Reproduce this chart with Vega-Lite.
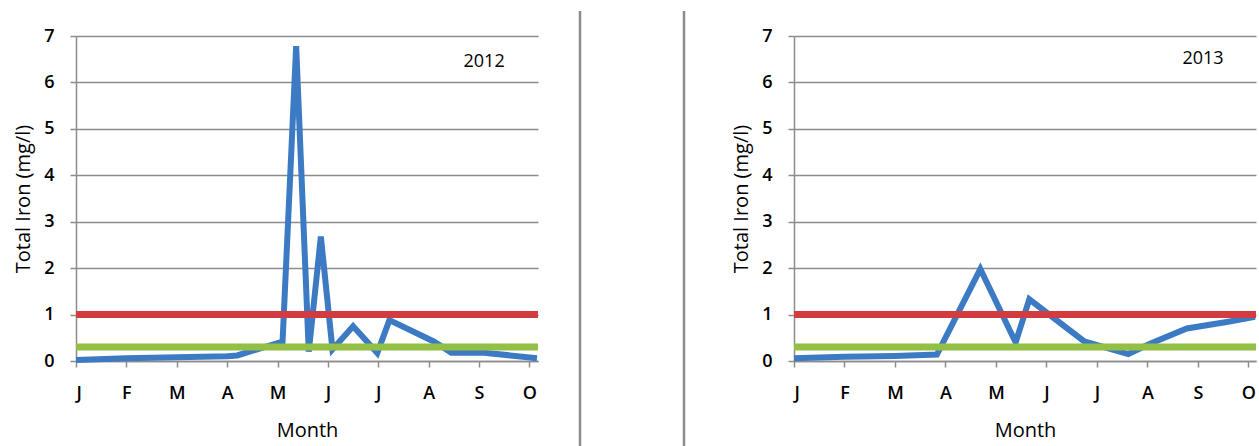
{
  "$schema": "https://vega.github.io/schema/vega-lite/v6.json",
  "padding": {"left": 13, "right": 0, "top": 9, "bottom": 0},
  "spacing": 29,
  "background": "white",
  "config": {
    "view": {"stroke": null},
    "font": "Open Sans",
    "text": {"font": "Open Sans"},
    "axis": {
      "labelFont": "Open Sans", "titleFont": "Open Sans",
      "labelColor": "#000000", "titleColor": "#000000",
      "domainColor": "#8c8c8c", "tickColor": "#8c8c8c", "gridColor": "#8c8c8c",
      "domainWidth": 1.5, "tickWidth": 1.5, "gridWidth": 1.5,
      "labelFontSize": 18, "titleFontSize": 20, "titleFontWeight": "normal", "labelFontWeight": 600,
      "tickSize": 6
    },
    "axisX": {"labelPadding": 17, "titlePadding": 18, "grid": false},
    "axisY": {"labelPadding": 16, "titlePadding": 10, "grid": true}
  },
  "datasets": {
    "iron2012": [
      {"month": 0, "iron": 0.02}, {"month": 1, "iron": 0.06}, {"month": 2, "iron": 0.08},
      {"month": 3, "iron": 0.1}, {"month": 3.2, "iron": 0.12}, {"month": 4.1, "iron": 0.42},
      {"month": 4.37, "iron": 6.78}, {"month": 4.62, "iron": 0.2}, {"month": 4.86, "iron": 2.68},
      {"month": 5.09, "iron": 0.25}, {"month": 5.5, "iron": 0.75}, {"month": 5.98, "iron": 0.17},
      {"month": 6.22, "iron": 0.88}, {"month": 7.1, "iron": 0.42}, {"month": 7.45, "iron": 0.18},
      {"month": 8.1, "iron": 0.18}, {"month": 9.15, "iron": 0.06}
    ],
    "iron2013": [
      {"month": 0, "iron": 0.06}, {"month": 1, "iron": 0.09}, {"month": 2, "iron": 0.11},
      {"month": 2.83, "iron": 0.14}, {"month": 3.69, "iron": 1.98}, {"month": 4.39, "iron": 0.4},
      {"month": 4.66, "iron": 1.33}, {"month": 5.75, "iron": 0.42}, {"month": 6.62, "iron": 0.15},
      {"month": 7.05, "iron": 0.37}, {"month": 7.78, "iron": 0.7}, {"month": 8.57, "iron": 0.84},
      {"month": 9.13, "iron": 0.95}
    ],
    "limits": [
      {"standard": "upper", "value": 1.0},
      {"standard": "lower", "value": 0.3}
    ],
    "separators": [{"pos": 0}, {"pos": 104}]
  },
  "hconcat": [
    {
      "width": 462, "height": 325,
      "layer": [
        {
          "data": {"name": "iron2012"},
          "mark": {"type": "line", "color": "#3C7BC4", "strokeWidth": 6},
          "encoding": {
            "x": {"field": "month", "type": "quantitative", "scale": {"domain": [0, 9.17], "nice": false},
              "axis": {"values": [0,1,2,3,4,5,6,7,8,9], "title": "Month",
                "labelExpr": "['J','F','M','A','M','J','J','A','S','O'][datum.value]"}},
            "y": {"field": "iron", "type": "quantitative", "scale": {"domain": [0, 7], "nice": false},
              "axis": {"values": [0,1,2,3,4,5,6,7], "title": "Total Iron (mg/l)"}}
          }
        },
        {
          "data": {"name": "limits"},
          "mark": {"type": "rule", "strokeWidth": 7},
          "encoding": {
            "y": {"field": "value", "type": "quantitative"},
            "color": {"field": "standard", "type": "nominal",
              "scale": {"domain": ["upper", "lower"], "range": ["#D23B3F", "#93C044"]}, "legend": null}
          }
        },
        {
          "data": {"values": [{"label": "2012", "month": 8.1, "iron": 6.45}]},
          "mark": {"type": "text", "fontSize": 18, "color": "#000000", "align": "center", "baseline": "middle"},
          "encoding": {
            "x": {"field": "month", "type": "quantitative"},
            "y": {"field": "iron", "type": "quantitative"},
            "text": {"field": "label"}
          }
        }
      ]
    },
    {
      "width": 122, "height": 325,
      "data": {"name": "separators"},
      "mark": {"type": "rule", "color": "#8c8c8c", "strokeWidth": 2.5},
      "encoding": {
        "x": {"field": "pos", "type": "quantitative", "scale": {"domain": [0, 122], "nice": false, "zero": false}, "axis": null},
        "y": {"datum": 1.077, "type": "quantitative", "scale": {"domain": [0, 1], "nice": false}, "axis": null},
        "y2": {"datum": -0.268}
      }
    },
    {
      "width": 462, "height": 325,
      "layer": [
        {
          "data": {"name": "iron2013"},
          "mark": {"type": "line", "color": "#3C7BC4", "strokeWidth": 6},
          "encoding": {
            "x": {"field": "month", "type": "quantitative", "scale": {"domain": [0, 9.15], "nice": false},
              "axis": {"values": [0,1,2,3,4,5,6,7,8,9], "title": "Month",
                "labelExpr": "['J','F','M','A','M','J','J','A','S','O'][datum.value]"}},
            "y": {"field": "iron", "type": "quantitative", "scale": {"domain": [0, 7], "nice": false},
              "axis": {"values": [0,1,2,3,4,5,6,7], "title": "Total Iron (mg/l)"}}
          }
        },
        {
          "data": {"name": "limits"},
          "mark": {"type": "rule", "strokeWidth": 7},
          "encoding": {
            "y": {"field": "value", "type": "quantitative"},
            "color": {"field": "standard", "type": "nominal",
              "scale": {"domain": ["upper", "lower"], "range": ["#D23B3F", "#93C044"]}, "legend": null}
          }
        },
        {
          "data": {"values": [{"label": "2013", "month": 8.1, "iron": 6.5}]},
          "mark": {"type": "text", "fontSize": 18, "color": "#000000", "align": "center", "baseline": "middle"},
          "encoding": {
            "x": {"field": "month", "type": "quantitative"},
            "y": {"field": "iron", "type": "quantitative"},
            "text": {"field": "label"}
          }
        }
      ]
    }
  ]
}
